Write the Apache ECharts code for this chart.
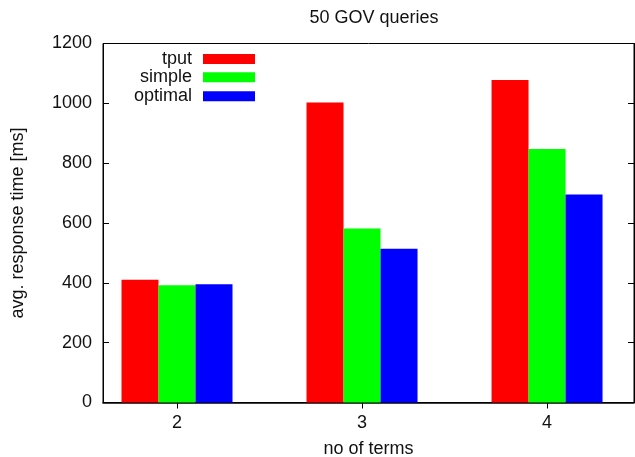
<!DOCTYPE html>
<html>
<head>
<meta charset="utf-8">
<script src="https://cdn.jsdelivr.net/npm/echarts@6/dist/echarts.min.js"></script>
<style>html,body{margin:0;padding:0;background:#fff}#c{width:635px;height:457px}</style>
</head>
<body>
<div id="c"></div>
<script>
const terms = [2, 3, 4];
const tput = [410, 1003, 1078];
const simple = [392, 582, 847];
const optimal = [395, 514, 695];

const FONT = 'Liberation Sans';
const FS = 18;
const TXT = '#111';

function pairs(vals) { return terms.map((t, i) => [t, vals[i]]); }

const chart = echarts.init(document.getElementById('c'));
const legendBase = {
  orient: 'vertical', align: 'right', right: 380, padding: 0,
  itemWidth: 52, itemHeight: 10, icon: 'rect',
  textStyle: { fontFamily: FONT, fontSize: FS, color: TXT, lineHeight: 18, padding: [0, 6, 0, 0] }
};
chart.setOption({
  animation: false,
  backgroundColor: '#fff',
  title: {
    text: '50 GOV queries', left: 369, top: 4, textAlign: 'center',
    textStyle: { fontFamily: FONT, fontSize: FS, fontWeight: 'normal', color: TXT }
  },
  legend: [
    Object.assign({}, legendBase, { data: ['tput'], top: 50 }),
    Object.assign({}, legendBase, { data: ['simple'], top: 68.3 }),
    Object.assign({}, legendBase, { data: ['optimal'], top: 87.3 })
  ],
  grid: { left: 103, right: 1, top: 43.5, bottom: 54.5, outerBoundsMode: 'none', containLabel: false,
          show: true, borderColor: '#000', borderWidth: 1, backgroundColor: 'transparent' },
  xAxis: [{
    type: 'value', min: 1.6, max: 4.47, position: 'bottom',
    name: 'no of terms', nameLocation: 'middle', nameGap: 38,
    nameTextStyle: { fontFamily: FONT, fontSize: FS, color: TXT },
    axisLine: { show: true, lineStyle: { color: '#000', width: 1.5 } },
    axisTick: { show: true, inside: true, length: 6, customValues: terms, lineStyle: { color: '#000' } },
    axisLabel: { customValues: terms, margin: 12, fontFamily: FONT, fontSize: FS, color: TXT },
    splitLine: { show: false }
  }, {
    type: 'value', min: 1.6, max: 4.47, position: 'top',
    axisLine: { show: true, lineStyle: { color: '#000' } },
    axisTick: { show: true, inside: true, length: 6, customValues: terms, lineStyle: { color: '#000' } },
    axisLabel: { show: false },
    splitLine: { show: false }
  }],
  yAxis: [{
    type: 'value', min: 0, max: 1200, interval: 200, position: 'left',
    name: 'avg. response time [ms]', nameLocation: 'middle', nameGap: 76, nameRotate: 90,
    nameTextStyle: { fontFamily: FONT, fontSize: FS, color: TXT },
    axisLine: { show: true, lineStyle: { color: '#000' } },
    axisTick: { show: true, inside: true, length: 6, lineStyle: { color: '#000' } },
    axisLabel: { margin: 11, fontFamily: FONT, fontSize: FS, color: TXT, formatter: v => String(v) },
    splitLine: { show: false }
  }, {
    type: 'value', min: 0, max: 1200, interval: 200, position: 'right',
    axisLine: { show: true, lineStyle: { color: '#000' } },
    axisTick: { show: true, inside: true, length: 6, lineStyle: { color: '#000' } },
    axisLabel: { show: false },
    splitLine: { show: false }
  }],
  series: [
    { name: 'tput', type: 'bar', data: pairs(tput), barWidth: 37, barGap: '0%', itemStyle: { color: '#ff0000' } },
    { name: 'simple', type: 'bar', data: pairs(simple), barWidth: 37, barGap: '0%', itemStyle: { color: '#00ff00' } },
    { name: 'optimal', type: 'bar', data: pairs(optimal), barWidth: 37, barGap: '0%', itemStyle: { color: '#0000ff' } }
  ]
});
</script>
</body>
</html>
